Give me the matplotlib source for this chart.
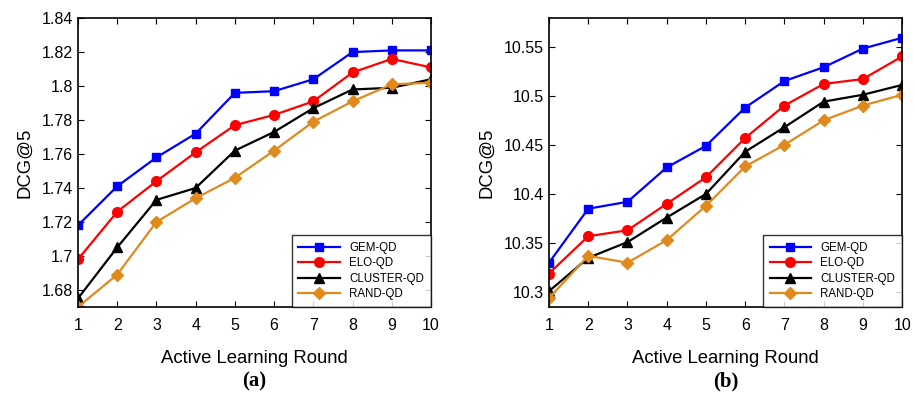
import matplotlib
matplotlib.use("Agg")
import matplotlib.pyplot as plt

plt.rcParams['font.family'] = ['Liberation Sans', 'DejaVu Sans']

rounds = [1, 2, 3, 4, 5, 6, 7, 8, 9, 10]
names = ["GEM-QD", "ELO-QD", "CLUSTER-QD", "RAND-QD"]

# panel (a)
gem_a = [1.718, 1.741, 1.758, 1.772, 1.796, 1.797, 1.804, 1.820, 1.821, 1.821]
elo_a = [1.698, 1.726, 1.744, 1.761, 1.777, 1.783, 1.791, 1.808, 1.816, 1.811]
clu_a = [1.675, 1.705, 1.733, 1.740, 1.762, 1.773, 1.787, 1.798, 1.799, 1.804]
rnd_a = [1.670, 1.689, 1.720, 1.734, 1.746, 1.762, 1.779, 1.791, 1.801, 1.802]

# panel (b)
gem_b = [10.330, 10.385, 10.392, 10.427, 10.449, 10.488, 10.515, 10.529, 10.548, 10.559]
elo_b = [10.319, 10.357, 10.363, 10.390, 10.417, 10.457, 10.490, 10.512, 10.517, 10.540]
clu_b = [10.301, 10.335, 10.351, 10.376, 10.400, 10.443, 10.468, 10.494, 10.501, 10.511]
rnd_b = [10.294, 10.337, 10.330, 10.353, 10.388, 10.428, 10.450, 10.475, 10.490, 10.501]

colors = ["#0000ff", "#ff0000", "#000000", "#e08a1e"]
markers = ["s", "o", "^", "D"]
sizes = [6, 7, 7, 6]

fig = plt.figure(figsize=(9.15, 3.94), dpi=100)
ax1 = fig.add_axes([0.0852, 0.221, 0.3858, 0.733])
ax2 = fig.add_axes([0.600, 0.221, 0.386, 0.733])


def draw(ax, series, ylim, yticks, yticklabels, tag):
    for ys, c, m, s, n in zip(series, colors, markers, sizes, names):
        ax.plot(rounds, ys, color=c, marker=m, markersize=s, linewidth=1.6, label=n)
    ax.set_xlim(1, 10)
    ax.set_ylim(*ylim)
    ax.set_xticks(rounds)
    ax.set_yticks(yticks)
    ax.set_yticklabels(yticklabels)
    ax.tick_params(direction='in', top=True, right=True, labelsize=11.5, length=4)
    ax.tick_params(axis='x', pad=8)
    for sp in ax.spines.values():
        sp.set_linewidth(1.2)
    ax.set_xlabel("Active Learning Round", fontsize=13.3, labelpad=12)
    ax.set_ylabel("DCG@5", fontsize=13.3, labelpad=6)
    leg = ax.legend(loc='lower right', fontsize=8.3, fancybox=False, edgecolor='black',
                    borderaxespad=0, handlelength=3.6, labelspacing=0.3, borderpad=0.6)
    leg.get_frame().set_linewidth(1.0)
    ax.text(0.5, -0.225, tag, transform=ax.transAxes, ha='center', va='top',
            fontsize=15, fontweight='bold', family='Liberation Serif')


draw(ax1, [gem_a, elo_a, clu_a, rnd_a], (1.67, 1.84),
     [1.68, 1.70, 1.72, 1.74, 1.76, 1.78, 1.80, 1.82, 1.84],
     ["1.68", "1.7", "1.72", "1.74", "1.76", "1.78", "1.8", "1.82", "1.84"], "(a)")
draw(ax2, [gem_b, elo_b, clu_b, rnd_b], (10.285, 10.579),
     [10.30, 10.35, 10.40, 10.45, 10.50, 10.55],
     ["10.3", "10.35", "10.4", "10.45", "10.5", "10.55"], "(b)")

fig.savefig("out.png", dpi=100)
